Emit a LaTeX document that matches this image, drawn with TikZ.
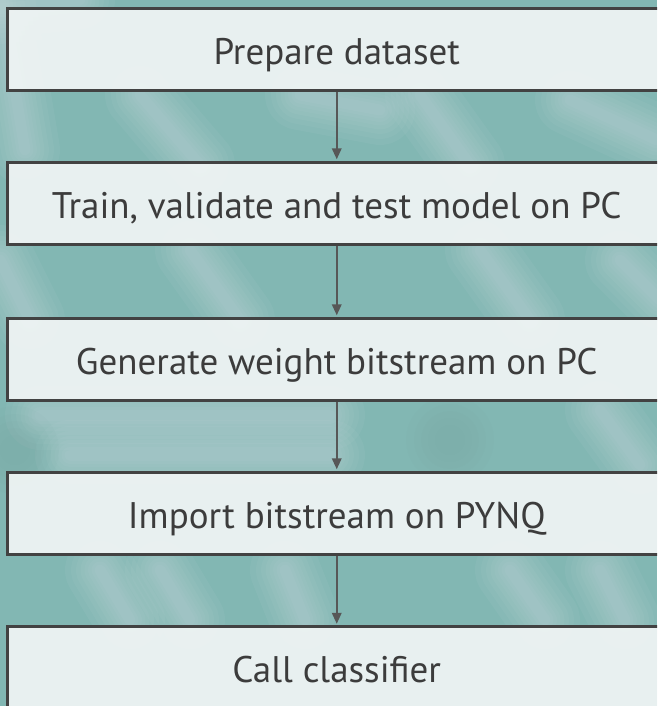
\documentclass[tikz,border=0pt]{standalone}
\usepackage{fontspec}
\setmainfont{PT Sans}
\usetikzlibrary{arrows.meta}

\definecolor{bgteal}{HTML}{82B7B3}
\definecolor{bglight}{HTML}{CADBDF}
\definecolor{boxfill}{HTML}{EFF4F4}
\definecolor{boxline}{HTML}{424242}
\definecolor{arrowcol}{HTML}{575757}
\definecolor{txt}{HTML}{3C3C3C}

\tikzset{
  stepbox/.style={draw=boxline, line width=3pt, fill=boxfill, fill opacity=0.94,
    text opacity=1, text=txt, minimum width=658.5pt, minimum height=82pt,
    inner sep=0pt, text height=35pt, text depth=5pt,
    font=\fontsize{37}{42}\selectfont},
  flow/.style={draw=arrowcol, line width=2pt,
    -{Triangle[length=11pt,width=9.5pt]}, shorten >=1.2pt},
  % soft light streak: stacked translucent strokes of shrinking width
  haze/.style={draw=bglight, line cap=round, opacity=0.07},
  shade/.style={fill=bgteal!80!black, opacity=0.03}
}
\newcommand{\softstreak}[2]{%
  \foreach \w in {70,58,48,39,31,24,17,11} {\draw[haze, line width=\w pt] #1 -- #2;}}
\newcommand{\softspot}[1]{%
  \foreach \r in {44,36,29,22,15} {\fill[shade] #1 circle (\r pt);}}

\begin{document}
\begin{tikzpicture}[x=1pt, y=-1pt]
  \useasboundingbox (0,0) rectangle (657,706);
  \clip (0,0) rectangle (657,706);

  % blurred teal backdrop
  \fill[bgteal] (0,0) rectangle (657,706);
  \softstreak{(0,0)}{(25,150)}
  \softstreak{(-10,10)}{(80,0)}
  \softstreak{(140,95)}{(200,165)}
  \softstreak{(420,95)}{(470,165)}
  \softstreak{(570,100)}{(657,140)}
  \softstreak{(300,95)}{(380,110)}
  \softstreak{(0,260)}{(30,320)}
  \softstreak{(190,250)}{(240,320)}
  \softstreak{(480,250)}{(530,320)}
  \softstreak{(620,260)}{(660,300)}
  \softstreak{(40,415)}{(330,415)}
  \softstreak{(70,455)}{(330,455)}
  \softstreak{(600,410)}{(640,465)}
  \softstreak{(100,570)}{(130,620)}
  \softstreak{(160,570)}{(190,620)}
  \softstreak{(285,570)}{(305,620)}
  \softstreak{(510,570)}{(545,620)}
  \softstreak{(600,570)}{(625,620)}
  \softspot{(15,450)}
  \softspot{(450,440)}

  % process steps
  \node[stepbox] (b1) at (336.75,50)  {Prepare dataset};
  \node[stepbox] (b2) at (336.75,203) {Train, validate and test model on PC};
  \node[stepbox] (b3) at (336.75,359) {Generate weight bitstream on PC};
  \node[stepbox] (b4) at (336.75,513) {Import bitstream on PYNQ};
  \node[stepbox] (b5) at (336.75,667.5) {Call classifier};

  % flow arrows
  \draw[flow] (b1.south) -- (b2.north);
  \draw[flow] (b2.south) -- (b3.north);
  \draw[flow] (b3.south) -- (b4.north);
  \draw[flow] (b4.south) -- (b5.north);
\end{tikzpicture}
\end{document}
